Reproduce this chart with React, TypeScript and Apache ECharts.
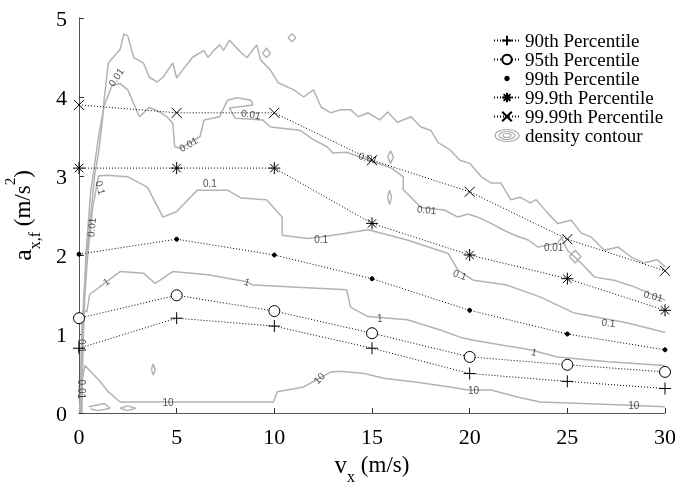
import React, { useEffect, useRef } from "react";
import * as echarts from "echarts";

// ---- data ----
const vx = [0, 5, 10, 15, 20, 25, 30];
const p90 = [0.82, 1.2, 1.1, 0.82, 0.5, 0.4, 0.31];
const p95 = [1.2, 1.49, 1.29, 1.01, 0.71, 0.61, 0.52];
const p99 = [2.01, 2.2, 2.0, 1.7, 1.3, 1.0, 0.8];
const p999 = [3.1, 3.1, 3.1, 2.4, 2.0, 1.7, 1.3];
const p9999 = [3.9, 3.8, 3.8, 3.2, 2.8, 2.2, 1.8];
const xTicks = [0, 5, 10, 15, 20, 25, 30];
const yTicks = [0, 1, 2, 3, 4, 5];

const contour10: number[][] = [
  [0.02, 0.02], [0.15, 0.4], [0.3, 0.6], [0.5, 0.55], [1.0, 0.42], [1.5, 0.27], [2.1, 0.14],
  [9.95, 0.14], [10.15, 0.27], [11.5, 0.33], [12.9, 0.52], [13.4, 0.53], [14.6, 0.5],
  [15.6, 0.44], [17.3, 0.39], [19.0, 0.33], [19.9, 0.29], [21.1, 0.29], [22.5, 0.2],
  [23.6, 0.14], [27.9, 0.1], [30, 0.08],
];
const contour1: number[][] = [
  [0.08, 0.0], [0.12, 0.8], [0.2, 1.3], [0.4, 1.28], [0.55, 1.5], [1.4, 1.66], [2.1, 1.79],
  [3.3, 1.77], [3.9, 1.64], [4.8, 1.79], [6.6, 1.75], [8.6, 1.66], [8.9, 1.62], [13.7, 1.56],
  [13.9, 1.34], [14.8, 1.22], [16.8, 1.18], [18.5, 1.05], [19.5, 0.96], [20.2, 0.92],
  [23.1, 0.8], [24.5, 0.71], [27.1, 0.65], [30, 0.6],
];
const contour01: number[][] = [
  [0.15, 0.0], [0.2, 0.8], [0.3, 1.5], [0.45, 2.0], [0.7, 2.6], [1.0, 3.0], [1.4, 3.01],
  [2.5, 2.99], [3.5, 2.86], [4.3, 2.48], [5.0, 2.55], [6.05, 2.82], [7.6, 2.82], [8.3, 2.72],
  [9.6, 2.7], [10.4, 2.48], [10.4, 2.25], [11.7, 2.21], [13.0, 2.25], [14.8, 2.32],
  [16.8, 2.19], [18.9, 2.02], [19.4, 1.81], [20.2, 1.68], [21.9, 1.62], [23.6, 1.47],
  [25.3, 1.27], [28.1, 1.14], [30, 1.02],
];
const contour001Inner: number[][] = [
  [0.1, 0.0], [0.2, 1.0], [0.35, 2.0], [0.6, 2.8], [1.0, 3.5], [1.3, 3.9], [1.7, 4.15],
  [2.1, 4.17], [2.5, 4.09], [3.0, 3.8], [3.1, 3.75], [3.6, 3.87], [4.2, 3.8], [4.5, 3.75],
  [4.8, 3.67], [4.9, 3.37], [5.2, 3.35], [6.2, 3.5], [6.4, 3.71], [7.2, 3.75], [7.6, 3.96],
  [8.1, 3.99], [8.8, 3.96], [8.9, 3.9], [7.7, 3.86], [8.0, 3.73], [9.4, 3.71], [9.8, 3.62],
  [11.3, 3.58], [12.0, 3.46], [12.7, 3.37], [13.0, 3.29], [13.7, 3.3], [14.4, 3.24],
  [15.3, 3.16], [16.0, 3.1], [16.6, 2.99], [16.6, 2.83], [17.5, 2.6], [18.7, 2.57],
  [19.4, 2.48], [19.9, 2.52], [20.4, 2.48], [21.1, 2.4], [21.7, 2.32], [22.3, 2.25],
  [23.0, 2.19], [23.5, 2.1], [24.5, 2.15], [24.7, 2.22], [25.0, 2.06], [25.7, 1.9],
  [26.4, 1.72], [27.4, 1.68], [28.4, 1.6], [30, 1.43],
];
const contour001Outer: number[][] = [
  [0.05, 0.0], [0.1, 0.5], [0.15, 1.0], [0.25, 1.5], [0.4, 2.0], [0.6, 2.5], [0.8, 3.0],
  [1.0, 3.3], [1.2, 3.7], [1.3, 4.0], [1.5, 4.43], [2.1, 4.6], [2.3, 4.8], [2.5, 4.77],
  [2.8, 4.5], [3.3, 4.43], [3.6, 4.25], [4.0, 4.19], [4.3, 4.25], [4.8, 4.43], [5.0, 4.24],
  [5.3, 4.34], [5.8, 4.5], [6.4, 4.59], [6.6, 4.5], [6.9, 4.59], [7.2, 4.66], [7.4, 4.59],
  [7.7, 4.72], [8.3, 4.56], [8.6, 4.5], [9.1, 4.66], [9.3, 4.47], [9.8, 4.34], [10.2, 4.18],
  [11.0, 4.09], [11.5, 4.0], [12.0, 4.09], [12.4, 3.87], [12.9, 3.8], [13.4, 3.84],
  [13.9, 3.84], [14.3, 3.75], [14.8, 3.8], [15.4, 3.71], [15.8, 3.81], [16.3, 3.68],
  [17.0, 3.75], [17.5, 3.62], [18.0, 3.58], [18.4, 3.42], [19.0, 3.33], [19.5, 3.2],
  [20.0, 3.16], [20.6, 2.99], [21.1, 2.91], [21.6, 2.91], [22.1, 2.7], [22.6, 2.73],
  [23.1, 2.66], [23.4, 2.7], [24.0, 2.53], [24.5, 2.4], [25.2, 2.44], [25.7, 2.28],
  [26.2, 2.23], [26.9, 2.06], [27.6, 2.1], [28.3, 1.97], [28.9, 1.9], [29.6, 1.94], [30, 1.85],
];
const islandA: number[][] = [[10.7, 4.75], [10.9, 4.8], [11.1, 4.75], [10.9, 4.7], [10.7, 4.75]];
const islandB: number[][] = [[9.4, 4.55], [9.6, 4.62], [9.8, 4.55], [9.6, 4.5], [9.4, 4.55]];
const islandC: number[][] = [[15.8, 3.24], [15.95, 3.32], [16.1, 3.24], [15.95, 3.16], [15.8, 3.24]];
const islandD: number[][] = [[15.8, 2.73], [15.9, 2.82], [16.0, 2.73], [15.9, 2.64], [15.8, 2.73]];
const islandE: number[][] = [[25.1, 1.98], [25.4, 2.06], [25.7, 1.98], [25.4, 1.9], [25.1, 1.98]];
const islandF: number[][] = [[3.7, 0.55], [3.8, 0.62], [3.9, 0.55], [3.8, 0.48], [3.7, 0.55]];
const islandG: number[][] = [[0.5, 0.08], [1.3, 0.12], [1.6, 0.06], [1.0, 0.03], [0.6, 0.05]];
const islandH: number[][] = [[2.1, 0.06], [2.5, 0.09], [2.9, 0.06], [2.5, 0.03], [2.1, 0.06]];

// contour label: x, y, text, rotation
const labelX = [1.9, 5.6, 8.8, 14.8, 17.8, 24.3, 29.4, 0.65, 1.1, 0.15, 0.15, 6.7, 12.4, 19.5, 27.1, 1.4, 8.6, 15.4, 23.3, 4.56, 12.3, 20.2, 28.4];
const labelY = [4.25, 3.4, 3.78, 3.23, 2.57, 2.09, 1.48, 2.35, 2.85, 0.85, 0.3, 2.91, 2.2, 1.75, 1.14, 1.66, 1.66, 1.2, 0.77, 0.13, 0.44, 0.29, 0.1];
const labelText = ["0.01", "0.01", "0.01", "0.01", "0.01", "0.01", "0.01", "0.01", "0.1", "0.1", "0.01", "0.1", "0.1", "0.1", "0.1", "1", "1", "1", "1", "10", "10", "10", "10"];
const labelRot = [55, 30, -10, -15, -5, 0, -15, 85, -75, -90, -90, 0, 0, -20, -5, 35, -20, 0, -15, 0, 45, 0, 0];

const SERIF = "Liberation Serif";
const SANS = "Liberation Sans";

const plusPath = "path://M0,5L10,5M5,0L5,10";
const xPath = "path://M0,0L10,10M10,0L0,10";
const starPath = "path://M5,0L5,10M0,5L10,5M1.5,1.5L8.5,8.5M8.5,1.5L1.5,8.5";
const circlePath = "path://M10,5A5,5 0 1,1 0,5A5,5 0 1,1 10,5Z";
const dotLegendPath = "path://M0,0M10,10M3.6,5A1.4,1.4 0 1,1 6.4,5A1.4,1.4 0 1,1 3.6,5Z";
const contourIcon =
  "path://M0,6A12,6 0 1,1 24,6A12,6 0 1,1 0,6ZM4,6A8,4 0 1,1 20,6A8,4 0 1,1 4,6ZM8,6A4,2 0 1,1 16,6A4,2 0 1,1 8,6Z";

function pctSeries(name: string, ys: number[], symbol: string, size: number, fill = "#000") {
  return {
    name,
    type: "line",
    data: vx.map((x, i) => [x, ys[i]]),
    symbol,
    symbolSize: size,
    showSymbol: true,
    silent: true,
    z: 5,
    lineStyle: { color: "#000", width: 1, type: [1, 2] },
    itemStyle: { color: fill, borderColor: "#000", borderWidth: 1 },
  };
}

function contourSeries(data: number[][]) {
  return {
    name: "density contour",
    type: "line",
    data,
    showSymbol: false,
    symbol: "none",
    silent: true,
    z: 2,
    lineStyle: { color: "#b3b3b3", width: 1.5 },
    itemStyle: { color: "#b3b3b3" },
  };
}

export default function App() {
  const ref = useRef<HTMLDivElement>(null);
  useEffect(() => {
    document.body.style.margin = "0";
    const chart = echarts.init(ref.current!, null, { renderer: "svg" });
    const contours = [contour10, contour1, contour01, contour001Inner, contour001Outer,
      islandA, islandB, islandC, islandD, islandE, islandF, islandG, islandH];
    const labelData = labelX.map((x, i) => ({
      value: [x, labelY[i]],
      label: { rotate: labelRot[i], formatter: labelText[i] },
    }));
    chart.setOption({
      animation: false,
      grid: { left: 79, right: 12, top: 18, bottom: 71, containLabel: false, outerBoundsMode: "none" },
      xAxis: {
        type: "value",
        min: xTicks[0],
        max: xTicks[xTicks.length - 1],
        interval: xTicks[1] - xTicks[0],
        name: "{v|v}{s|x}{n| (m/s)}",
        nameLocation: "middle",
        nameGap: 30,
        nameTextStyle: {
          color: "#000",
          fontFamily: SERIF,
          rich: {
            v: { fontFamily: SERIF, fontSize: 25, color: "#000", lineHeight: 40, verticalAlign: "middle" },
            s: { fontFamily: SERIF, fontSize: 16, color: "#000", lineHeight: 40, verticalAlign: "bottom" },
            n: { fontFamily: SERIF, fontSize: 23, color: "#000", lineHeight: 40, verticalAlign: "middle" },
          },
        },
        axisLine: { show: true, onZero: false, lineStyle: { color: "#555", width: 1 } },
        axisTick: { show: true, inside: true, length: 5, lineStyle: { color: "#333" } },
        axisLabel: { color: "#000", fontFamily: SERIF, fontSize: 22, margin: 12 },
        splitLine: { show: false },
      },
      yAxis: {
        type: "value",
        min: yTicks[0],
        max: yTicks[yTicks.length - 1],
        interval: 1,
        name: "{a|a}{s|x,f}{n| (m/s}{p|2}{n|)}",
        nameLocation: "middle",
        nameGap: 37,
        nameTextStyle: {
          color: "#000",
          fontFamily: SERIF,
          rich: {
            a: { fontFamily: SERIF, fontSize: 26, color: "#000", lineHeight: 40, verticalAlign: "middle" },
            s: { fontFamily: SERIF, fontSize: 16, color: "#000", lineHeight: 40, verticalAlign: "bottom" },
            n: { fontFamily: SERIF, fontSize: 23, color: "#000", lineHeight: 40, verticalAlign: "middle" },
            p: { fontFamily: SERIF, fontSize: 15, color: "#000", lineHeight: 40, verticalAlign: "top" },
          },
        },
        axisLine: { show: true, onZero: false, lineStyle: { color: "#555", width: 1 } },
        axisTick: { show: true, inside: true, length: 5, lineStyle: { color: "#333" } },
        axisLabel: { color: "#000", fontFamily: SERIF, fontSize: 22, margin: 12 },
        splitLine: { show: false },
      },
      legend: {
        orient: "vertical",
        left: 488,
        top: 26,
        itemWidth: 26,
        itemHeight: 12,
        itemGap: 0,
        textStyle: { fontFamily: SERIF, fontSize: 19, color: "#000", lineHeight: 18.4 },
        data: [
          { name: "90th Percentile" },
          { name: "95th Percentile" },
          { name: "99th Percentile", icon: dotLegendPath },
          { name: "99.9th Percentile" },
          { name: "99.99th Percentile" },
          {
            name: "density contour",
            icon: contourIcon,
            itemStyle: { color: "#fff", borderColor: "#aaa", borderWidth: 1.2 },
          },
        ],
      },
      series: [
        ...contours.map((c) => contourSeries(c)),
        {
          name: "contour labels",
          type: "scatter",
          data: labelData,
          symbolSize: 0,
          z: 3,
          silent: true,
          itemStyle: { color: "#222" },
          label: {
            show: true,
            position: "inside",
            fontFamily: SANS,
            fontSize: 10,
            color: "#222",
          },
        },
        pctSeries("90th Percentile", p90, plusPath, 12),
        pctSeries("95th Percentile", p95, circlePath, 11, "#fff"),
        pctSeries("99th Percentile", p99, "circle", 4),
        pctSeries("99.9th Percentile", p999, starPath, 12),
        pctSeries("99.99th Percentile", p9999, xPath, 10),
      ],
    });
    return () => chart.dispose();
  }, []);
  return <div ref={ref} style={{ position: "fixed", left: 0, top: 0, width: 677, height: 484 }} />;
}
